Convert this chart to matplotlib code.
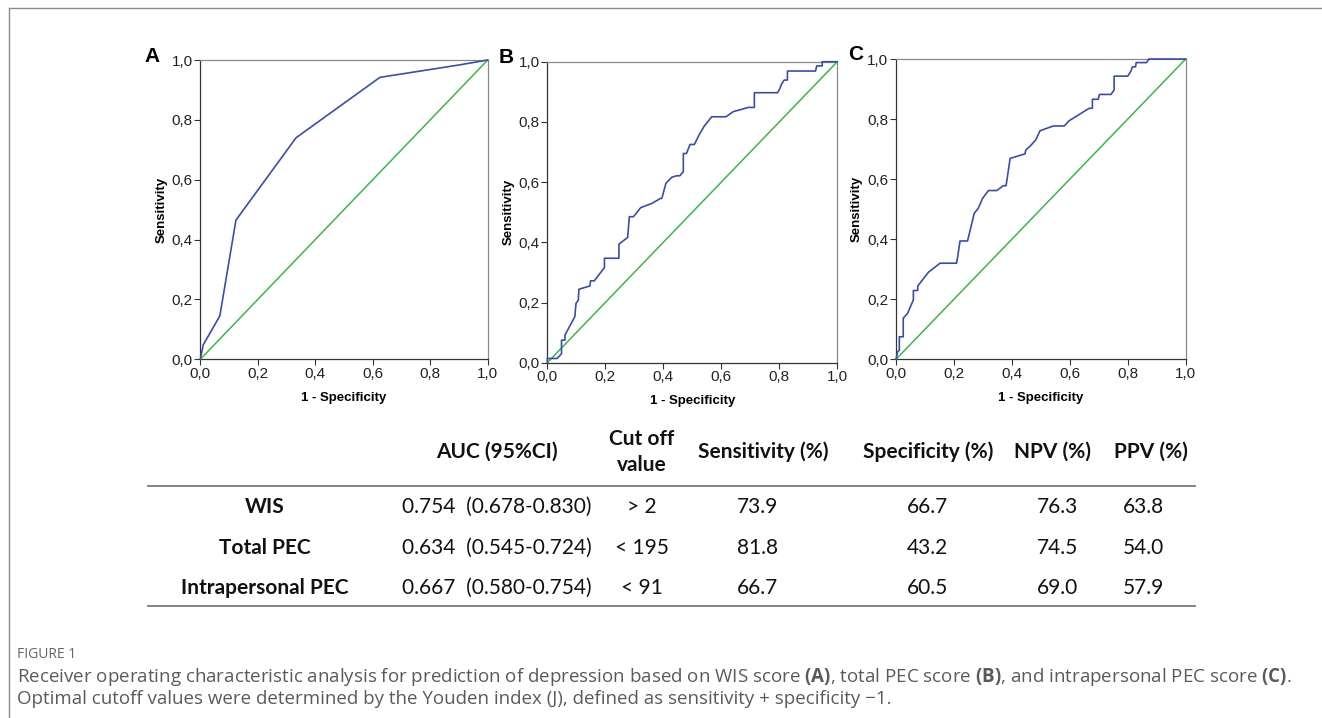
import numpy as np
import matplotlib
matplotlib.use("Agg")
import matplotlib.pyplot as plt
from matplotlib.lines import Line2D
from matplotlib.ticker import FuncFormatter

# ROC curves (1 - specificity, sensitivity)
wis_fpr = [0.0, 0.01, 0.068, 0.124, 0.333, 0.625, 0.898, 1.0]
wis_tpr = [0.0, 0.048, 0.145, 0.465, 0.74, 0.942, 0.983, 1.0]

pec_fpr = [0.0, 0.0, 0.034, 0.049, 0.049, 0.061, 0.061, 0.095, 0.099, 0.107, 0.109,
           0.147, 0.149, 0.162, 0.197, 0.197, 0.247, 0.247, 0.277, 0.283, 0.297,
           0.322, 0.36, 0.391, 0.395, 0.409, 0.429, 0.446, 0.457, 0.469, 0.469,
           0.48, 0.492, 0.507, 0.523, 0.541, 0.567, 0.616, 0.641, 0.693, 0.714,
           0.714, 0.794, 0.802, 0.808, 0.817, 0.828, 0.828, 0.925, 0.929, 0.948,
           0.948, 1.0]
pec_tpr = [0.0, 0.014, 0.014, 0.03, 0.075, 0.075, 0.092, 0.153, 0.197, 0.208, 0.244,
           0.255, 0.272, 0.272, 0.316, 0.347, 0.347, 0.394, 0.416, 0.485, 0.485,
           0.515, 0.529, 0.546, 0.546, 0.596, 0.616, 0.621, 0.621, 0.635, 0.695,
           0.695, 0.725, 0.725, 0.756, 0.786, 0.817, 0.817, 0.834, 0.848, 0.848,
           0.897, 0.897, 0.911, 0.926, 0.939, 0.939, 0.969, 0.969, 0.986, 0.986,
           1.0, 1.0]

intra_fpr = [0.0, 0.006, 0.0115, 0.0115, 0.025, 0.025, 0.04, 0.06, 0.06, 0.075, 0.075,
             0.112, 0.152, 0.209, 0.213, 0.221, 0.247, 0.27, 0.284, 0.299, 0.319,
             0.348, 0.37, 0.38, 0.394, 0.445, 0.448, 0.463, 0.482, 0.497, 0.543,
             0.581, 0.597, 0.667, 0.678, 0.678, 0.698, 0.702, 0.742, 0.753, 0.753,
             0.8, 0.811, 0.816, 0.827, 0.829, 0.865, 0.873, 1.0]
intra_tpr = [0.0, 0.026, 0.03, 0.075, 0.075, 0.137, 0.153, 0.198, 0.229, 0.229, 0.244,
             0.29, 0.32, 0.32, 0.342, 0.394, 0.394, 0.486, 0.503, 0.536, 0.562,
             0.562, 0.578, 0.578, 0.669, 0.684, 0.697, 0.71, 0.73, 0.761, 0.777,
             0.777, 0.794, 0.836, 0.836, 0.866, 0.866, 0.882, 0.882, 0.897, 0.943,
             0.943, 0.96, 0.974, 0.974, 0.988, 0.988, 1.0, 1.0]

panel_letters = ["A", "B", "C"]

# summary table
row_labels = ["WIS", "Total PEC", "Intrapersonal PEC"]
auc_ci = ["0.754  (0.678-0.830)", "0.634  (0.545-0.724)", "0.667  (0.580-0.754)"]
cutoffs = ["> 2", "< 195", "< 91"]
sensitivity = ["73.9", "81.8", "66.7"]
specificity = ["66.7", "43.2", "60.5"]
npv = ["76.3", "74.5", "69.0"]
ppv = ["63.8", "54.0", "57.9"]

W, H = 1322, 718
BLUE = "#3a4ea3"
GREEN = "#3db54a"

plt.rcParams["mathtext.fontset"] = "custom"
plt.rcParams["mathtext.rm"] = "Open Sans"
plt.rcParams["mathtext.bf"] = "Open Sans:bold"

fig = plt.figure(figsize=(W / 100, H / 100), dpi=100)


def fx(px):
    return px / W


def fy(py):
    return 1 - py / H


# axes boxes in pixels: left, top, right, bottom
boxes = [(200.3, 60.0, 487.7, 359.3),
         (547.3, 61.7, 837.3, 362.7),
         (896.0, 59.0, 1185.7, 359.3)]
letter_x = [152, 506, 856]
curves = [(wis_fpr, wis_tpr), (pec_fpr, pec_tpr), (intra_fpr, intra_tpr)]
comma_fmt = FuncFormatter(lambda v, p: f"{v:.1f}".replace(".", ","))

for (l, t, r, b), (xs, ys), letter, lx in zip(boxes, curves, panel_letters, letter_x):
    ax = fig.add_axes([fx(l), fy(b), (r - l) / W, (b - t) / H])
    ax.plot([0, 1], [0, 1], color=GREEN, lw=1.1, solid_capstyle="butt",
            clip_on=False, zorder=3)
    ax.plot(xs, ys, color=BLUE, lw=1.2, clip_on=False, zorder=4)
    ax.set_xlim(0, 1)
    ax.set_ylim(0, 1)
    ticks = np.linspace(0, 1, 6)
    ax.set_xticks(ticks)
    ax.set_yticks(ticks)
    ax.xaxis.set_major_formatter(comma_fmt)
    ax.yaxis.set_major_formatter(comma_fmt)
    ax.tick_params(direction="out", length=4, width=0.8, color="#333333",
                   labelsize=11, pad=1.5)
    for lab in ax.get_xticklabels() + ax.get_yticklabels():
        lab.set_family("Liberation Sans")
        lab.set_color("#222222")
    for side in ["left", "bottom"]:
        ax.spines[side].set_color("#333333")
        ax.spines[side].set_linewidth(0.9)
    for side in ["top", "right"]:
        ax.spines[side].set_color("#8a8a8a")
        ax.spines[side].set_linewidth(0.9)
    ax.set_xlabel("1 - Specificity", family="Liberation Sans", weight="bold",
                  fontsize=9.5, labelpad=8)
    ax.set_ylabel("Sensitivity", family="Liberation Sans", weight="bold",
                  fontsize=9.5, labelpad=3)
    fig.text(fx(lx), fy(t - 4), letter, family="Liberation Sans",
             weight="bold", fontsize=15, ha="center", va="center")

# table
tkw = dict(family="Lato", fontsize=15, color="#111111", va="center")
col_x = [265, 497, 642, 757, 927, 1057, 1143]
header_x = [497, 642, 763, 928, 1053, 1151]
fig.text(fx(header_x[0]), fy(452), "AUC (95%CI)", ha="center", weight="bold", **tkw)
fig.text(fx(header_x[1]), fy(452), "Cut off\nvalue", ha="center", weight="bold",
         linespacing=1.35, **tkw)
fig.text(fx(header_x[2]), fy(452), "Sensitivity (%)", ha="center", weight="bold", **tkw)
fig.text(fx(header_x[3]), fy(452), "Specificity (%)", ha="center", weight="bold", **tkw)
fig.text(fx(header_x[4]), fy(452), "NPV (%)", ha="center", weight="bold", **tkw)
fig.text(fx(header_x[5]), fy(452), "PPV (%)", ha="center", weight="bold", **tkw)

row_y = [507, 548, 588]
for i, y in enumerate(row_y):
    fig.text(fx(col_x[0]), fy(y), row_labels[i], ha="center", weight="bold", **tkw)
    fig.text(fx(col_x[1]), fy(y), auc_ci[i], ha="center", **tkw)
    fig.text(fx(col_x[2]), fy(y), cutoffs[i], ha="center", **tkw)
    fig.text(fx(col_x[3]), fy(y), sensitivity[i], ha="center", **tkw)
    fig.text(fx(col_x[4]), fy(y), specificity[i], ha="center", **tkw)
    fig.text(fx(col_x[5]), fy(y), npv[i], ha="center", **tkw)
    fig.text(fx(col_x[6]), fy(y), ppv[i], ha="center", **tkw)

for y in (486, 606):
    fig.add_artist(Line2D([fx(148), fx(1195)], [fy(y), fy(y)], color="#7a7a7a",
                          lw=1.3, transform=fig.transFigure))

# outer frame (top and left rules)
fig.add_artist(Line2D([fx(9), fx(W)], [fy(8), fy(8)], color="#8c8c8c", lw=1.0,
                      transform=fig.transFigure))
fig.add_artist(Line2D([fx(9), fx(9)], [fy(8), 0], color="#8c8c8c", lw=1.0,
                      transform=fig.transFigure))

# caption
fig.text(fx(17), fy(655), "FIGURE 1", family="Open Sans", fontsize=10,
         color="#666666", va="center")
cap1 = ("Receiver operating characteristic analysis for prediction of depression based on "
        "WIS score $\\mathbf{(A)}$, total PEC score $\\mathbf{(B)}$, and intrapersonal PEC "
        "score $\\mathbf{(C)}$.")
cap2 = "Optimal cutoff values were determined by the Youden index (J), defined as sensitivity + specificity \u22121."
fig.text(fx(17), fy(677), cap1, family="Open Sans", fontsize=13.5, color="#5a5a5a",
         va="center")
fig.text(fx(17), fy(699), cap2, family="Open Sans", fontsize=13.5, color="#5a5a5a",
         va="center")

fig.savefig("out.png", dpi=100)
